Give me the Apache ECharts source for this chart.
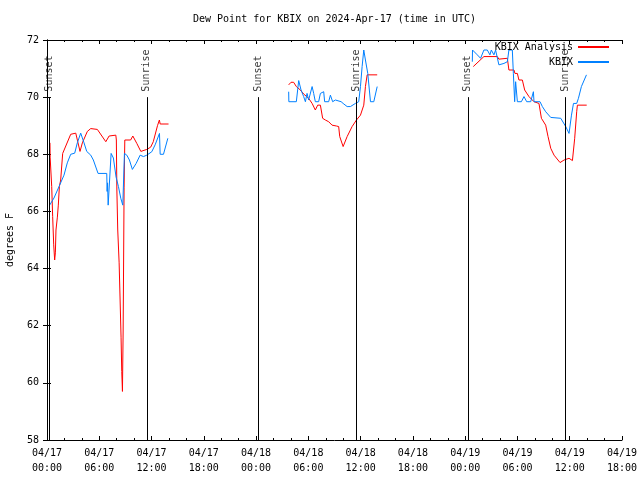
<!DOCTYPE html>
<html><head><meta charset="utf-8">
<script src="https://cdn.jsdelivr.net/npm/echarts@6/dist/echarts.min.js"></script>
<style>html,body{margin:0;padding:0;background:#fff}#c{width:640px;height:480px}</style>
</head><body><div id="c"></div>
<script>
// x values are hours since 04/17 00:00 UTC
const xTickLabels = ['04/17\n00:00','04/17\n06:00','04/17\n12:00','04/17\n18:00',
  '04/18\n00:00','04/18\n06:00','04/18\n12:00','04/18\n18:00',
  '04/19\n00:00','04/19\n06:00','04/19\n12:00','04/19\n18:00'];
const sunTimes = [0.29, 11.46, 24.25, 35.52, 48.31, 59.46];
const sunLabels = ['Sunset','Sunrise','Sunset','Sunrise','Sunset','Sunrise'];

const analysisDay1 = [[0.34,68.4],[0.36,67.9],[0.54,66.87],[0.65,65.82],[0.77,64.83],[0.88,64.3],[0.96,64.55],[1.03,65.35],[1.19,65.8],[1.3,66.22],[1.42,66.87],[1.57,67.1],[1.8,68.03],[2.72,68.7],[3.3,68.74],[3.79,68.1],[4.06,68.4],[4.63,68.8],[5.02,68.9],[5.78,68.87],[6.75,68.44],[7.13,68.64],[7.9,68.67],[7.96,68.5],[8.02,66.75],[8.12,65.35],[8.28,64.2],[8.39,62.9],[8.5,61.6],[8.58,60.4],[8.66,59.7],[8.74,61.85],[8.85,66.85],[8.93,68.5],[9.6,68.5],[9.85,68.64],[10.31,68.38],[10.77,68.1],[10.88,68.06],[11.45,68.17],[11.9,68.25],[12.2,68.44],[12.68,69.0],[12.9,69.2],[12.99,69.06],[13.95,69.06]];
const analysisDay2 = [[27.74,70.43],[28.01,70.52],[28.31,70.52],[28.62,70.37],[29.08,70.25],[29.46,70.11],[30.03,69.96],[30.43,69.78],[30.8,69.55],[31.07,69.72],[31.38,69.72],[31.64,69.26],[31.95,69.2],[32.33,69.14],[32.72,69.02],[33.22,68.99],[33.48,68.97],[33.6,68.62],[33.76,68.56],[33.99,68.27],[34.45,68.62],[35.02,68.97],[35.52,69.2],[35.98,69.37],[36.36,69.72],[36.55,70.37],[36.75,70.78],[37.9,70.78]];
const analysisDay3 = [[48.93,71.07],[50.15,71.42],[51.69,71.42],[51.87,71.33],[52.84,71.36],[53.02,70.95],[53.6,70.95],[53.71,70.83],[53.99,70.83],[54.17,70.6],[54.56,70.6],[54.83,70.25],[55.32,70.02],[55.9,69.84],[56.47,69.78],[56.75,69.26],[57.24,69.02],[57.51,68.62],[57.82,68.21],[58.2,67.97],[58.89,67.71],[59.35,67.8],[59.92,67.86],[60.31,67.78],[60.57,68.56],[60.8,69.49],[60.88,69.72],[61.95,69.72]];

const obsDay1 = [[0.3,66.22],[0.8,66.47],[1.38,66.87],[1.95,67.27],[2.33,67.7],[2.72,68.0],[3.18,68.04],[3.48,68.4],[3.87,68.74],[4.25,68.4],[4.56,68.1],[5.02,67.97],[5.32,67.8],[5.86,67.33],[6.86,67.33],[6.9,66.7],[6.95,67.0],[7.02,66.22],[7.36,68.03],[7.62,67.87],[7.93,67.2],[8.2,66.87],[8.47,66.46],[8.7,66.22],[8.89,68.03],[9.16,67.97],[9.46,67.8],[9.8,67.47],[10.23,67.68],[10.69,67.97],[11.07,67.92],[11.46,67.97],[12.03,68.09],[12.41,68.33],[12.91,68.73],[12.99,68.0],[13.37,68.0],[13.87,68.56]];
const obsDay2 = [[27.74,70.19],[27.76,69.84],[28.62,69.84],[28.89,70.58],[29.16,70.25],[29.46,70.02],[29.66,69.84],[29.85,70.13],[30.03,69.9],[30.43,70.37],[30.61,70.13],[30.8,69.84],[31.18,69.84],[31.38,70.13],[31.76,70.19],[31.87,69.84],[32.33,69.84],[32.53,70.07],[32.79,69.84],[33.1,69.9],[33.76,69.84],[33.99,69.78],[34.45,69.67],[34.83,69.67],[35.4,69.78],[35.78,69.84],[35.98,70.37],[36.17,71.07],[36.36,71.65],[36.55,71.3],[36.82,70.83],[37.13,69.84],[37.51,69.84],[37.9,70.37]];
const obsDay3 = [[48.82,71.24],[48.84,71.65],[49.0,71.65],[49.39,71.48],[49.77,71.36],[50.15,71.65],[50.54,71.65],[50.84,71.48],[51.0,71.65],[51.3,71.48],[51.49,71.65],[51.87,71.13],[52.45,71.18],[52.84,71.24],[53.02,71.65],[53.41,71.65],[53.53,70.83],[53.68,69.84],[53.79,70.54],[53.99,69.84],[54.45,69.84],[54.75,70.02],[55.06,69.84],[55.52,69.84],[55.83,70.19],[55.9,69.84],[56.59,69.84],[56.86,69.67],[57.24,69.49],[57.82,69.29],[58.97,69.26],[59.54,68.97],[59.92,68.73],[60.2,69.37],[60.43,69.78],[60.8,69.78],[61.0,69.96],[61.34,70.37],[61.92,70.78]];

function joinSegments(segs){
  const out = [];
  segs.forEach((s,i)=>{ if(i>0) out.push([ (segs[i-1][segs[i-1].length-1][0]+s[0][0])/2, null ]); s.forEach(p=>out.push(p)); });
  return out;
}
const FONT = 'DejaVu Sans Mono';
const chart = echarts.init(document.getElementById('c'), null, {renderer:'canvas'});
const axisCommon = {
  axisLine:{show:true,lineStyle:{color:'#000',width:1}},
  splitLine:{show:false}
};
chart.setOption({
  animation:false,
  backgroundColor:'#fff',
  title:{text:'Dew Point for KBIX on 2024-Apr-17 (time in UTC)',left:193,top:14,padding:0,
    textStyle:{fontFamily:FONT,fontSize:10,fontWeight:'normal',color:'#000'}},
  legend:{data:['KBIX Analysis','KBIX'],orient:'vertical',align:'right',right:30,top:42,padding:0,
    itemWidth:31,itemHeight:10,itemGap:5,
    itemStyle:{opacity:0},
    textStyle:{fontFamily:FONT,fontSize:10,color:'#000'}},
  grid:{left:47,right:18,top:40,bottom:40,containLabel:false,outerBoundsMode:'none'},
  xAxis:[
    Object.assign({type:'value',min:0,max:66,interval:6,position:'bottom',
      axisTick:{show:true,inside:true,length:4,lineStyle:{color:'#000'}},
      minorTick:{show:true,splitNumber:3,length:2,lineStyle:{color:'#000'}},
      axisLabel:{margin:6,fontFamily:FONT,fontSize:10,color:'#000',lineHeight:15,
        formatter:v=>xTickLabels[Math.round(v/6)]}},axisCommon),
    Object.assign({type:'value',min:0,max:66,interval:6,position:'top',
      axisTick:{show:true,inside:true,length:4,lineStyle:{color:'#000'}},
      minorTick:{show:true,splitNumber:3,length:2,lineStyle:{color:'#000'}},
      axisLabel:{show:false}},axisCommon)
  ],
  yAxis:[
    Object.assign({type:'value',min:58,max:72,interval:2,position:'left',
      name:'degrees F',nameLocation:'middle',nameRotate:90,nameGap:32,
      nameTextStyle:{fontFamily:FONT,fontSize:10,color:'#000'},
      axisTick:{show:true,inside:true,length:4,lineStyle:{color:'#000'}},
      axisLabel:{margin:8,fontFamily:FONT,fontSize:10,color:'#000'}},axisCommon),
    Object.assign({type:'value',min:58,max:72,interval:2,position:'right',
      axisTick:{show:true,inside:true,length:4,lineStyle:{color:'#000'}},
      axisLabel:{show:false}},axisCommon)
  ],
  series:[
    {name:'sun',type:'scatter',symbolSize:1,itemStyle:{color:'rgba(0,0,0,0)'},silent:true,
      data:sunTimes.map((t,i)=>({value:[t,70],name:sunLabels[i]})),
      label:{show:true,formatter:'{b}',position:'top',distance:5,rotate:90,align:'left',verticalAlign:'middle',
        fontFamily:FONT,fontSize:10,color:'#000'},
      markLine:{silent:true,symbol:['none','none'],label:{show:false},
        lineStyle:{color:'#000',width:1,type:'solid'},
        data:sunTimes.map(t=>[{coord:[t,70]},{coord:[t,58]}])}
    },
    {name:'KBIX Analysis',type:'line',symbol:'none',connectNulls:false,
      lineStyle:{color:'#ff0000',width:1},itemStyle:{color:'#ff0000'},
      data:joinSegments([analysisDay1,analysisDay2,analysisDay3])},
    {name:'KBIX',type:'line',symbol:'none',connectNulls:false,
      lineStyle:{color:'#0080ff',width:1},itemStyle:{color:'#0080ff'},
      data:joinSegments([obsDay1,obsDay2,obsDay3])}
  ]
});
</script></body></html>
